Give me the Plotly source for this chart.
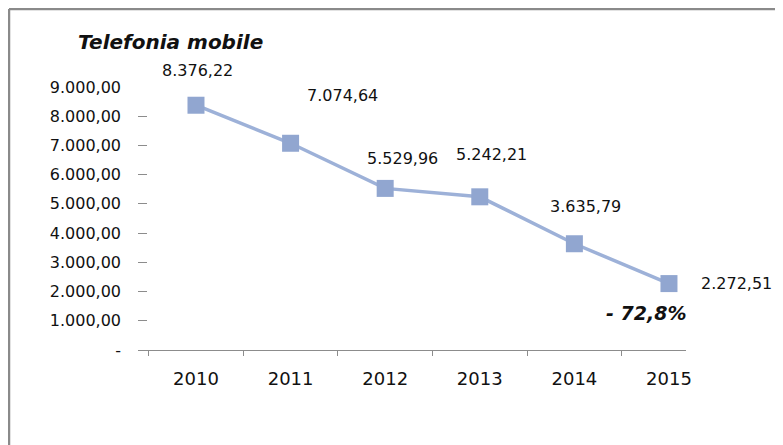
import plotly.graph_objects as go

years = ["2010", "2011", "2012", "2013", "2014", "2015"]
values = [8376.22, 7074.64, 5529.96, 5242.21, 3635.79, 2272.51]
ytick_vals = [0, 1000, 2000, 3000, 4000, 5000, 6000, 7000, 8000, 9000]
title_text = "Telefonia mobile"
change_text = "- 72,8%"


def it_fmt(v):
    s = f"{v:,.2f}"
    return s.replace(",", "X").replace(".", ",").replace("X", ".")


ytick_text = ["-" if v == 0 else it_fmt(v) for v in ytick_vals]

# page has an 8px body margin; figure sized to fit in the window
W, H = 775, 437
L, R, T, B = 130, 97, 79, 95
pw, ph = W - L - R, H - T - B


def px_x(p):
    return (p - L) / pw


def px_y(p):
    return (H - B - p) / ph


fig = go.Figure()
fig.add_trace(go.Scatter(
    x=years, y=values, mode="lines+markers",
    line=dict(color="#9db1d8", width=3.5),
    marker=dict(symbol="square", size=17, color="#91a6d0"),
    hoverinfo="skip", showlegend=False,
))

# data label offsets (pixels) relative to each point
offsets = [(2, 35), (52, 48), (17, 30), (12, 42), (11, 37), (68, 0)]
for i, (v, (dx, dy)) in enumerate(zip(values, offsets)):
    fig.add_annotation(x=i, y=v, xref="x", yref="y", text=it_fmt(v), showarrow=False,
                       xshift=dx, yshift=dy,
                       font=dict(family="DejaVu Sans", size=16, color="#111111"))

fig.add_annotation(x=len(values) - 1, y=values[-1], xref="x", yref="y",
                   text=f"<b><i>{change_text}</i></b>",
                   showarrow=False, xshift=-23, yshift=-29,
                   font=dict(family="DejaVu Sans", size=19, color="#111111"))

fig.add_annotation(xref="paper", yref="paper", x=px_x(162), y=px_y(34),
                   text=f"<b><i>{title_text}</i></b>", showarrow=False,
                   xanchor="center", yanchor="middle",
                   font=dict(family="DejaVu Sans", size=20, color="#111111"))

# chart-area border (left and top)
fig.add_shape(type="line", xref="paper", yref="paper",
              x0=px_x(1), x1=px_x(1), y0=px_y(1), y1=px_y(H + 5),
              line=dict(color="#8a8a8a", width=2.5))
fig.add_shape(type="line", xref="paper", yref="paper",
              x0=px_x(1), x1=px_x(W + 5), y0=px_y(1), y1=px_y(1),
              line=dict(color="#8a8a8a", width=2.5))

fig.update_layout(
    width=W, height=H,
    margin=dict(l=L, r=R, t=T, b=B),
    paper_bgcolor="white", plot_bgcolor="white",
    font=dict(family="DejaVu Sans", size=16, color="#111111"),
    xaxis=dict(type="category", range=[-0.613, 5.18],
               showline=True, linecolor="#8c8c8c", linewidth=1.2,
               ticks="outside", tickson="boundaries", ticklen=5, tickcolor="#8c8c8c",
               showgrid=False, zeroline=False, fixedrange=True,
               ticklabelstandoff=12,
               tickfont=dict(size=18, family="DejaVu Sans")),
    yaxis=dict(range=[0, 9000], tickvals=ytick_vals, ticktext=ytick_text,
               showline=False, showgrid=False, zeroline=False,
               ticks="inside", ticklen=9, tickcolor="#8c8c8c",
               ticklabelstandoff=16,
               tickfont=dict(size=16, family="DejaVu Sans"), fixedrange=True),
)

fig.write_html("out.html")
